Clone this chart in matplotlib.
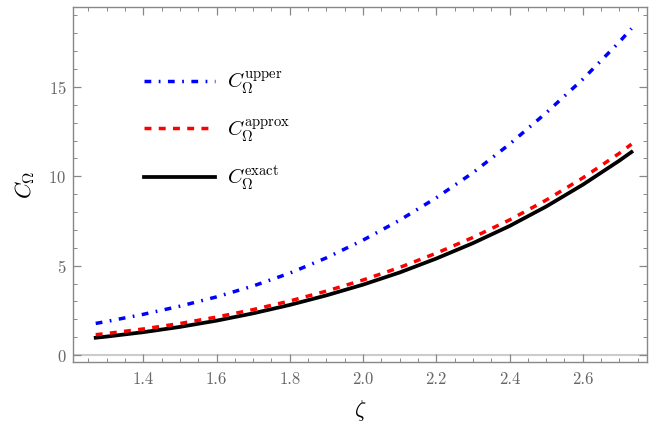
import numpy as np
import matplotlib
matplotlib.use("Agg")
import matplotlib.pyplot as plt
from matplotlib.ticker import MultipleLocator

plt.rcParams['mathtext.fontset'] = 'cm'
plt.rcParams['font.family'] = 'serif'
plt.rcParams['font.serif'] = ['cmr10', 'DejaVu Serif']
plt.rcParams['axes.formatter.use_mathtext'] = True

zeta = [1.27, 1.30, 1.40, 1.50, 1.60, 1.70, 1.80, 1.90, 2.00, 2.10, 2.20,
        2.30, 2.40, 2.50, 2.60, 2.70, 2.733]
c_upper = [1.77, 1.88, 2.28, 2.735, 3.255, 3.865, 4.585, 5.44, 6.43, 7.545, 8.80,
           10.20, 11.80, 13.55, 15.43, 17.52, 18.27]
c_approx = [1.14, 1.205, 1.46, 1.765, 2.125, 2.545, 3.025, 3.58, 4.20, 4.90, 5.70,
            6.58, 7.56, 8.67, 9.91, 11.29, 11.80]
c_exact = [0.97, 1.035, 1.28, 1.575, 1.925, 2.335, 2.805, 3.34, 3.94, 4.62, 5.40,
           6.26, 7.22, 8.31, 9.53, 10.88, 11.36]

labels = [r'$C_{\Omega}^{\mathrm{upper}}$', r'$C_{\Omega}^{\mathrm{approx}}$',
          r'$C_{\Omega}^{\mathrm{exact}}$']

fig = plt.figure(figsize=(6.67, 4.26), dpi=100)
ax = fig.add_axes([0.110, 0.151, 0.8596, 0.832])

ax.axhline(0, color='#cccccc', lw=1.5, zorder=1)

# dash values are in units of the line width
l1, = ax.plot(zeta, c_upper, color='#0000ff', lw=2.5, dashes=(1.95, 2.15, 0.5, 2.15),
              label=labels[0], zorder=3)
l2, = ax.plot(zeta, c_approx, color='#ff0000', lw=2.5, dashes=(2.0, 2.1),
              label=labels[1], zorder=3)
l3, = ax.plot(zeta, c_exact, color='black', lw=2.7, label=labels[2], zorder=2)
for l in (l1, l2):
    l.set_dash_capstyle('butt')

ax.set_xlim(1.209, 2.7746)
ax.set_ylim(-0.37, 19.46)

ax.xaxis.set_major_locator(MultipleLocator(0.2))
ax.xaxis.set_minor_locator(MultipleLocator(0.05))
ax.yaxis.set_major_locator(MultipleLocator(5))
ax.yaxis.set_minor_locator(MultipleLocator(1))
ax.xaxis.set_major_formatter(matplotlib.ticker.FormatStrFormatter('%.1f'))

framec = '#888888'
for s in ax.spines.values():
    s.set_color(framec)
    s.set_linewidth(1.0)
ax.tick_params(which='both', direction='in', top=True, right=True, color=framec,
               labelcolor='#666666', labelsize=12)
ax.tick_params(which='major', length=5.5, width=0.9)
ax.tick_params(which='minor', length=3, width=0.7)
ax.tick_params(axis='x', which='major', pad=7)
ax.tick_params(axis='y', which='major', pad=5)

ax.set_xlabel(r'$\zeta$', fontsize=16, labelpad=8)
ax.set_ylabel(r'$C_{\Omega}$', fontsize=16, labelpad=8)

leg = ax.legend(handles=[l1, l2, l3], loc='upper left',
                bbox_to_anchor=(0.123, 0.826), frameon=False, fontsize=15,
                handlelength=3.4, handletextpad=0.6, labelspacing=1.0,
                borderpad=0, borderaxespad=0)

fig.savefig('out.png', dpi=100)
